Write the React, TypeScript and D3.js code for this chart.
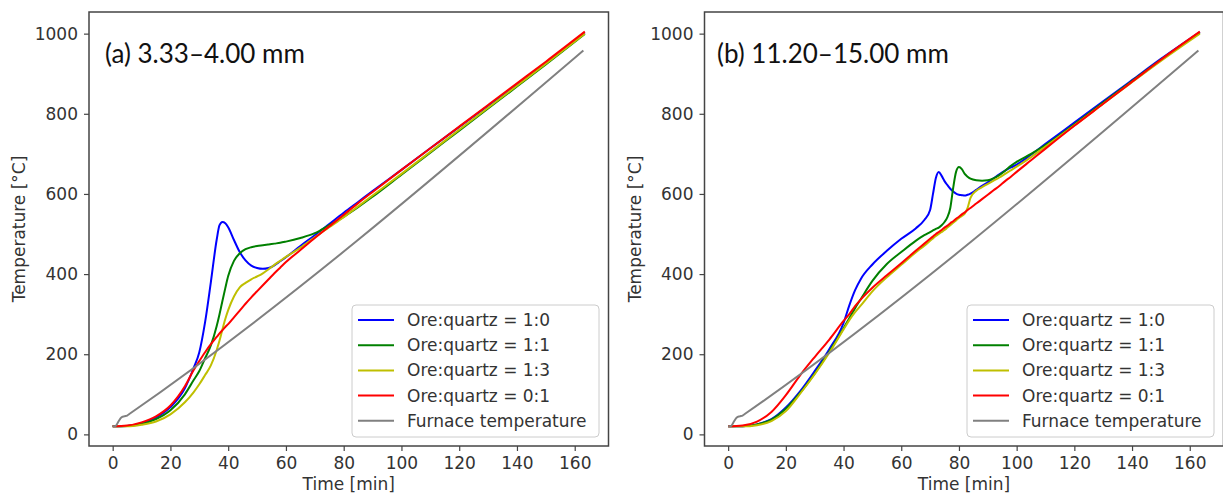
import React, { useEffect, useRef } from 'react';
import * as d3 from 'd3';

// panel (a) 3.33–4.00 mm — time grid [min] and temperatures [°C]
const timeA = [0, 5, 10, 15, 20, 25, 28, 30, 32, 34, 36, 37, 38, 39, 40, 42, 44, 46, 48, 50, 52, 54, 56, 58, 60, 65, 70, 75, 80, 85, 90, 100, 110, 120, 130, 140, 150, 163.5];
const blueA = [20, 21, 28, 42, 68, 115, 165, 205, 280, 380, 485, 522, 530, 527, 517, 485, 455, 434, 421, 415, 413, 415, 422, 432, 442, 470, 497, 525, 553, 580, 607, 660, 714, 767, 820, 873, 926, 1003];
const greenA = [20, 21, 26, 38, 60, 100, 135, 158, 190, 222, 270, 300, 333, 365, 395, 433, 452, 462, 467, 470, 472, 474, 476, 478, 481, 490, 502, 522, 543, 567, 593, 648, 703, 758, 813, 868, 923, 999];
const yellowA = [20, 20, 24, 32, 50, 80, 105, 125, 148, 172, 210, 234, 262, 288, 310, 344, 367, 378, 387, 394, 402, 412, 423, 433, 443, 466, 492, 517, 542, 569, 596, 650, 705, 760, 815, 870, 925, 1000];
const redA = [20, 22, 30, 45, 72, 120, 160, 183, 205, 225, 243, 252, 260, 268, 275, 292, 309, 326, 342, 357, 372, 387, 402, 416, 430, 460, 490, 519, 548, 577, 605, 660, 714, 768, 822, 876, 930, 1005];

// panel (b) 11.20–15.00 mm
const timeB = [0, 5, 10, 15, 20, 25, 30, 35, 40, 42, 44, 46, 50, 55, 60, 65, 68, 70, 71, 72, 73, 74, 75, 76, 77, 78, 79, 80, 81, 82, 83, 84, 86, 88, 90, 92, 94, 96, 98, 100, 105, 110, 120, 130, 140, 150, 163.5];
const blueB = [20, 20, 25, 38, 67, 108, 158, 212, 278, 322, 360, 388, 424, 458, 488, 514, 535, 560, 600, 640, 655, 645, 632, 622, 613, 606, 601, 598, 597, 596, 598, 601, 610, 620, 629, 639, 649, 658, 666, 673, 698, 725, 778, 831, 884, 937, 1004];
const greenB = [20, 20, 25, 37, 64, 104, 152, 206, 265, 290, 315, 338, 383, 425, 455, 483, 497, 505, 509, 513, 516, 522, 530, 542, 565, 615, 655, 667, 662, 650, 643, 638, 634, 633, 634, 639, 647, 658, 670, 680, 700, 722, 774, 828, 882, 935, 1002];
const yellowB = [20, 20, 23, 33, 58, 102, 150, 203, 262, 285, 305, 322, 357, 392, 423, 454, 471, 483, 489, 495, 500, 505, 510, 516, 522, 528, 534, 540, 545, 551, 565, 590, 608, 617, 625, 633, 641, 650, 659, 668, 692, 718, 771, 825, 879, 932, 1000];
const redB = [20, 22, 32, 56, 98, 148, 193, 236, 283, 300, 320, 337, 366, 397, 427, 458, 476, 488, 494, 500, 505, 510, 516, 521, 527, 532, 538, 543, 549, 554, 560, 565, 576, 587, 598, 609, 620, 632, 643, 655, 684, 713, 770, 825, 880, 935, 1005];

// furnace temperature (same in both panels)
const furnaceTime = [0, 1, 2, 3, 4, 5, 6, 163];
const furnaceTemp = [20, 21, 32, 42, 45, 47, 52, 958];

const xTicks = [0, 20, 40, 60, 80, 100, 120, 140, 160];
const yTicks = [0, 200, 400, 600, 800, 1000];
const legendLabels = ['Ore:quartz = 1:0', 'Ore:quartz = 1:1', 'Ore:quartz = 1:3', 'Ore:quartz = 0:1', 'Furnace temperature'];
const colors = ['#0000ff', '#008000', '#bfbf00', '#ff0000', '#808080'];

const width = 1223;
const height = 495;
const plotTop = 12;
const plotBottom = 446;
const font = 'DejaVu Sans';
const fontSize = 17;

const panels = [
  { id: 'a', title: '(a) 3.33–4.00 mm', titleX: 105, x0: 89, x1: 608.5, time: timeA, series: [blueA, greenA, yellowA, redA] },
  { id: 'b', title: '(b) 11.20–15.00 mm', titleX: 717, x0: 704.5, x1: 1223.5, time: timeB, series: [blueB, greenB, yellowB, redB] },
];

function drawPanel(svg: any, p: any) {
  const x = d3.scaleLinear().domain([-8.2, 171.7]).range([p.x0, p.x1]);
  const y = d3.scaleLinear().domain([-29, 1054]).range([plotBottom, plotTop]);
  const g = svg.append('g');

  const line = d3.line<[number, number]>()
    .x(d => x(d[0]))
    .y(d => y(d[1]))
    .curve(d3.curveMonotoneX);

  // sample curves
  p.series.forEach((vals: number[], i: number) => {
    g.append('path')
      .datum(p.time.map((t: number, j: number) => [t, vals[j]]))
      .attr('fill', 'none')
      .attr('stroke', colors[i])
      .attr('stroke-width', 2)
      .attr('d', line);
  });
  // furnace
  g.append('path')
    .datum(furnaceTime.map((t, j) => [t, furnaceTemp[j]]))
    .attr('fill', 'none')
    .attr('stroke', colors[4])
    .attr('stroke-width', 2)
    .attr('d', line);

  // frame
  g.append('rect')
    .attr('x', p.x0).attr('y', plotTop)
    .attr('width', p.x1 - p.x0).attr('height', plotBottom - plotTop)
    .attr('fill', 'none').attr('stroke', '#444').attr('stroke-width', 1.5);

  // axes
  const ax = g.append('g')
    .attr('transform', `translate(0,${plotBottom})`)
    .call(d3.axisBottom(x).tickValues(xTicks).tickFormat(d3.format('d')).tickSize(5).tickPadding(6));
  const ay = g.append('g')
    .attr('transform', `translate(${p.x0},0)`)
    .call(d3.axisLeft(y).tickValues(yTicks).tickFormat(d3.format('d')).tickSize(5).tickPadding(6));
  [ax, ay].forEach(a => {
    a.attr('font-family', font).attr('font-size', fontSize);
    a.select('.domain').remove();
    a.selectAll('line').attr('stroke', '#444').attr('stroke-width', 1.2);
    a.selectAll('text').attr('fill', '#333');
  });

  // axis labels
  g.append('text')
    .attr('x', (p.x0 + p.x1) / 2).attr('y', 490)
    .attr('text-anchor', 'middle')
    .attr('font-family', font).attr('font-size', fontSize).attr('fill', '#333')
    .text('Time [min]');
  g.append('text')
    .attr('transform', `translate(${p.x0 - 64},${(plotTop + plotBottom) / 2}) rotate(-90)`)
    .attr('text-anchor', 'middle')
    .attr('font-family', font).attr('font-size', fontSize).attr('fill', '#333')
    .text('Temperature [°C]');

  // panel title
  g.append('text')
    .attr('x', p.titleX).attr('y', 63)
    .attr('font-family', 'Lato').attr('font-size', 26).attr('fill', '#111')
    .text(p.title);

  // legend
  const lx = p.x1 - 9.5 - 247;
  const ly = 305;
  const leg = g.append('g').attr('transform', `translate(${lx},${ly})`);
  leg.append('rect')
    .attr('width', 247).attr('height', 132).attr('rx', 4)
    .attr('fill', 'white').attr('fill-opacity', 0.8)
    .attr('stroke', '#ccc');
  legendLabels.forEach((label, i) => {
    const ry = 15 + i * 25.2;
    leg.append('line')
      .attr('x1', 6).attr('x2', 42).attr('y1', ry).attr('y2', ry)
      .attr('stroke', colors[i]).attr('stroke-width', 2);
    leg.append('text')
      .attr('x', 55).attr('y', ry).attr('dy', '0.35em')
      .attr('font-family', font).attr('font-size', fontSize).attr('fill', '#333')
      .text(label);
  });
}

export default function App() {
  const ref = useRef<SVGSVGElement>(null);

  useEffect(() => {
    const svg = d3.select(ref.current);
    svg.selectAll('*').remove();
    panels.forEach(p => drawPanel(svg, p));
  }, []);

  return (
    <svg
      ref={ref}
      width={width}
      height={height}
      style={{ position: 'absolute', left: 0, top: 0, background: 'white' }}
    />
  );
}
